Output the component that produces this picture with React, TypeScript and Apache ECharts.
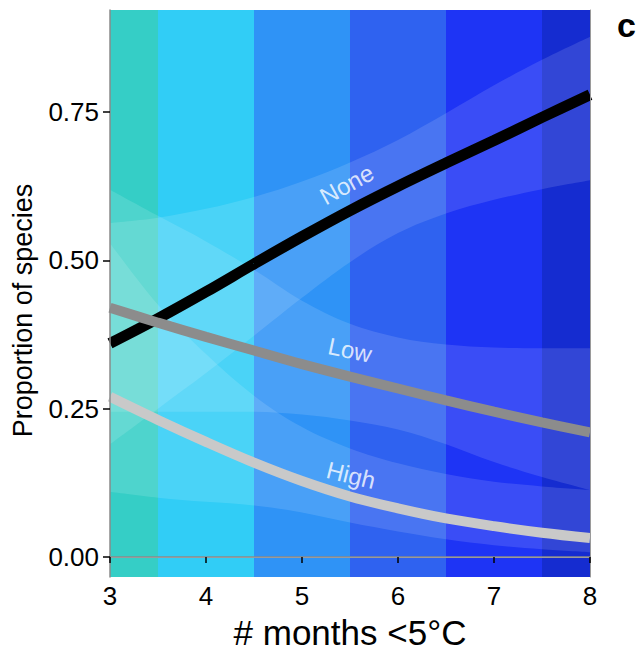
import React, { useEffect, useRef } from "react";
import * as echarts from "echarts";

// x positions (# months <5°C)
const xs = [3, 3.5, 4, 4.5, 5, 5.5, 6, 6.5, 7, 7.5, 8];

// Fitted proportions and confidence ribbons
const noneMid = [0.36, 0.402, 0.447, 0.494, 0.54, 0.584, 0.625, 0.664, 0.702, 0.741, 0.779];
const noneUpper = [0.563, 0.572, 0.587, 0.607, 0.633, 0.665, 0.703, 0.748, 0.795, 0.838, 0.877];
const noneLower = [0.19, 0.25, 0.31, 0.373, 0.437, 0.497, 0.546, 0.579, 0.602, 0.62, 0.635];

const lowMid = [0.42, 0.395, 0.371, 0.348, 0.325, 0.304, 0.284, 0.264, 0.245, 0.227, 0.21];
const lowUpper = [0.619, 0.575, 0.532, 0.484, 0.432, 0.393, 0.37, 0.358, 0.353, 0.352, 0.352];
const lowLower = [0.245, 0.245, 0.245, 0.245, 0.24, 0.23, 0.215, 0.19, 0.16, 0.135, 0.113];

const highMid = [0.27, 0.231, 0.194, 0.159, 0.128, 0.102, 0.082, 0.065, 0.052, 0.041, 0.032];
const highUpper = [0.529, 0.425, 0.342, 0.272, 0.219, 0.183, 0.158, 0.14, 0.127, 0.119, 0.113];
const highLower = [0.11, 0.1, 0.093, 0.087, 0.075, 0.058, 0.043, 0.03, 0.02, 0.013, 0.008];

// background bands
const bandEdges = [3, 3.5, 4.5, 5.5, 6.5, 7.5, 8];
const bandColors = ["#35CEC6", "#31CDF6", "#2F93F6", "#2F62F0", "#1E34F5", "#152CD0"];

// tick labels
const yTicks = [0, 0.25, 0.5, 0.75];

// line labels [x, y, text, rotation]
const lineLabels: [number, number, string, number][] = [
  [5.466, 0.628, "None", 29],
  [5.5, 0.349, "Low", -12],
  [5.51, 0.138, "High", -14],
];

const FONT = "Liberation Sans, Arial, Helvetica, sans-serif";
const SMOOTH = 0.35;

function ribbon(name: string, lower: number[], upper: number[]) {
  return [
    {
      name: name + "-lo",
      type: "line",
      xAxisIndex: 1,
      stack: name,
      smooth: SMOOTH,
      showSymbol: false,
      silent: true,
      z: 2,
      lineStyle: { opacity: 0, width: 0 },
      data: lower.slice(),
    },
    {
      name: name + "-band",
      type: "line",
      xAxisIndex: 1,
      stack: name,
      smooth: SMOOTH,
      showSymbol: false,
      silent: true,
      z: 2,
      lineStyle: { opacity: 0, width: 0 },
      areaStyle: { color: "rgba(255,255,255,0.18)" },
      data: upper.map((u, i) => u - lower[i]),
    },
  ];
}

function mainLine(name: string, vals: number[], color: string, width: number) {
  return {
    name,
    type: "line",
    smooth: SMOOTH,
    showSymbol: false,
    silent: true,
    z: 4,
    lineStyle: { color, width, cap: "butt" },
    data: xs.map((x, i) => [x, vals[i]]),
  };
}

export default function App() {
  const ref = useRef<HTMLDivElement>(null);
  useEffect(() => {
    if (!ref.current) return;
    const chart = echarts.init(ref.current, null, { renderer: "svg" });
    const bands = bandColors.map((c, i) => [
      { xAxis: bandEdges[i], itemStyle: { color: c, opacity: 1 } },
      { xAxis: bandEdges[i + 1] },
    ]);
    chart.setOption({
      animation: false,
      backgroundColor: "#ffffff",
      grid: { left: 110, right: 49, top: 10, bottom: 78 },
      xAxis: [
        {
          type: "value",
          min: 3,
          max: 8,
          interval: 1,
          z: 10,
          name: "# months <5°C",
          nameLocation: "middle",
          nameGap: 38,
          nameTextStyle: { fontFamily: FONT, fontSize: 35, color: "#000" },
          axisLine: { show: true, lineStyle: { color: "#8a8a8a", width: 1.5 } },
          axisTick: { show: true, length: 6, lineStyle: { color: "#000", width: 1.5 } },
          axisLabel: { fontFamily: FONT, fontSize: 26, color: "#000", margin: 6 },
          splitLine: { show: false },
        },
        {
          type: "category",
          data: xs.map(String),
          boundaryGap: false,
          position: "top",
          z: 10,
          axisLine: { show: true, lineStyle: { color: "#9a9a9a", width: 1 } },
          axisTick: { show: false },
          axisLabel: { show: false },
          splitLine: { show: false },
        },
      ],
      yAxis: [
        {
          type: "value",
          min: -0.0337,
          max: 0.922,
          z: 10,
          name: "Proportion of species",
          nameLocation: "middle",
          nameGap: 74,
          nameTextStyle: {
            fontFamily: FONT,
            fontSize: 27,
            color: "#000",
            padding: [0, 34, 0, 0],
          },
          axisLine: { show: true, lineStyle: { color: "#8a8a8a", width: 1.5 } },
          axisTick: {
            show: true,
            length: 7,
            lineStyle: { color: "#000", width: 1.5 },
            customValues: yTicks,
          },
          axisLabel: {
            fontFamily: FONT,
            fontSize: 26,
            color: "#000",
            margin: 11,
            customValues: yTicks,
            formatter: (v: number) => v.toFixed(2),
          },
          splitLine: { show: false },
        },
        {
          type: "value",
          min: -0.0337,
          max: 0.922,
          position: "right",
          z: 10,
          axisLine: { show: true, lineStyle: { color: "#9a9a9a", width: 1 } },
          axisTick: { show: false },
          axisLabel: { show: false },
          splitLine: { show: false },
        },
      ],
      graphic: [
        {
          type: "text",
          right: 3,
          top: 8,
          style: { text: "c", font: "bold 34px " + FONT, fill: "#000" },
        },
      ],
      series: [
        {
          name: "bands",
          type: "line",
          silent: true,
          z: 1,
          showSymbol: false,
          lineStyle: { opacity: 0 },
          data: xs.map((x, i) => [x, noneMid[i]]),
          markArea: { silent: true, data: bands },
        },
        ...ribbon("none", noneLower, noneUpper),
        ...ribbon("low", lowLower, lowUpper),
        ...ribbon("high", highLower, highUpper),
        mainLine("None", noneMid, "#000000", 11),
        mainLine("Low", lowMid, "#8c8c8c", 10),
        mainLine("High", highMid, "#c9c9c9", 10),
        {
          name: "labels",
          type: "scatter",
          symbolSize: 0,
          silent: true,
          z: 6,
          data: lineLabels.map(([x, y, t, r]) => ({
            value: [x, y],
            name: t,
            label: { rotate: r },
          })),
          label: {
            show: true,
            position: "inside",
            formatter: "{b}",
            color: "#ffffff",
            fontFamily: FONT,
            fontSize: 24,
          },
        },
      ],
    });
    return () => chart.dispose();
  }, []);
  return (
    <div
      ref={ref}
      style={{ position: "fixed", left: 0, top: 0, width: 639, height: 655 }}
    />
  );
}
